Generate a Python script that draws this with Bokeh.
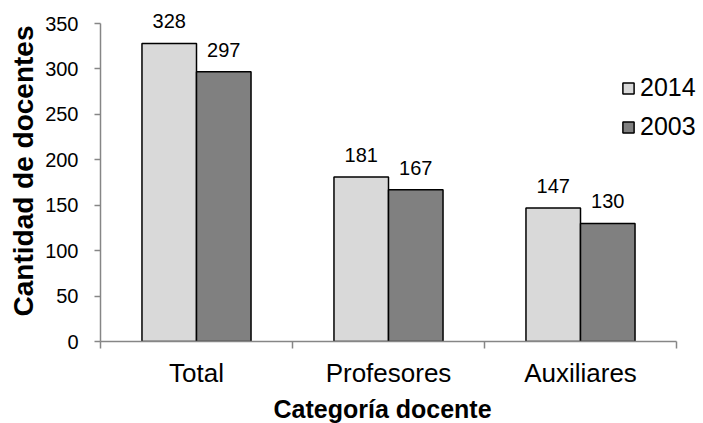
from bokeh.plotting import figure
from bokeh.models import (ColumnDataSource, FixedTicker, Legend, LegendItem,
                          LabelSet, Range1d, Title)
from bokeh.core.properties import value
from bokeh.embed import file_html
from bokeh.resources import INLINE

# ---- data ----
categories = ["Total", "Profesores", "Auxiliares"]
series_names = ["2014", "2003"]
values_2014 = [328, 181, 147]
values_2003 = [297, 167, 130]
y_ticks = [0, 50, 100, 150, 200, 250, 300, 350]
x_title = "Categoría docente"
y_title = "Cantidad de docentes"

# ---- style / layout ----
FONT = "Liberation Sans"
AXIS_GRAY = "#868686"
COLOR_2014 = "#d9d9d9"
COLOR_2003 = "#808080"
BAR_W = 0.284
PX_PER_CAT = 192        # width of one category in pixels
AXIS_H = 318            # height of the 0..350 axis in pixels
FRAME_W = 603
FRAME_H = 341

idx = list(range(len(categories)))
src14 = ColumnDataSource(dict(
    x=[i + 0.5 - BAR_W / 2 for i in idx], top=values_2014,
    lab=[str(v) for v in values_2014]))
src03 = ColumnDataSource(dict(
    x=[i + 0.5 + BAR_W / 2 for i in idx], top=values_2003,
    lab=[str(v) for v in values_2003]))

p = figure(frame_width=FRAME_W, frame_height=FRAME_H,
           min_border_left=100, min_border_right=0,
           min_border_top=0, min_border_bottom=82,
           x_range=Range1d(0, FRAME_W / PX_PER_CAT),
           y_range=Range1d(y_ticks[0], y_ticks[-1] * FRAME_H / AXIS_H),
           output_backend="svg", toolbar_location=None,
           outline_line_color=None, background_fill_color="white",
           border_fill_color="white")
p.grid.visible = False

r14 = p.vbar(x="x", top="top", width=BAR_W, source=src14,
             fill_color=COLOR_2014, line_color="black", line_width=1.5)
r03 = p.vbar(x="x", top="top", width=BAR_W, source=src03,
             fill_color=COLOR_2003, line_color="black", line_width=1.5)

for src in (src14, src03):
    p.add_layout(LabelSet(x="x", y="top", text="lab", source=src,
                          text_align="center", text_baseline="alphabetic",
                          y_offset=15, text_font=value(FONT),
                          text_font_size=value("20px"), text_color="black"))

# x axis: labels at category centres, ticks at category boundaries
xa = p.xaxis[0]
xa.bounds = (0, len(categories))
xa.ticker = FixedTicker(ticks=[i + 0.5 for i in idx],
                        minor_ticks=list(range(len(categories) + 1)))
xa.major_label_overrides = {i + 0.5: c for i, c in zip(idx, categories)}
xa.major_tick_out = 0
xa.major_tick_in = 0
xa.minor_tick_out = 7
xa.minor_tick_in = 0
xa.minor_tick_line_color = AXIS_GRAY
xa.minor_tick_line_width = 1.5
xa.axis_line_color = AXIS_GRAY
xa.axis_line_width = 1.5
xa.major_label_text_font = FONT
xa.major_label_text_font_size = "26px"
xa.major_label_text_color = "black"
xa.major_label_standoff = 9

# x title, centred under the three categories (not the whole frame)
xt = Title(text=x_title, align="left", offset=173, standoff=4,
           text_font=FONT, text_font_style="bold", text_font_size="25px",
           text_color="black")
p.add_layout(xt, "below")

ya = p.yaxis[0]
ya.bounds = (y_ticks[0], y_ticks[-1])
ya.ticker = FixedTicker(ticks=y_ticks, minor_ticks=[])
ya.major_tick_out = 6
ya.major_tick_in = 0
ya.major_tick_line_color = AXIS_GRAY
ya.major_tick_line_width = 1.5
ya.minor_tick_line_color = None
ya.axis_line_color = AXIS_GRAY
ya.axis_line_width = 1.5
ya.major_label_text_font = FONT
ya.major_label_text_font_size = "20px"
ya.major_label_text_color = "black"
ya.major_label_standoff = 16
ya.axis_label = y_title
ya.axis_label_text_font = FONT
ya.axis_label_text_font_style = "bold"
ya.axis_label_text_font_size = "28px"
ya.axis_label_text_color = "black"
ya.axis_label_standoff = 3

legend = Legend(items=[LegendItem(label=series_names[0], renderers=[r14]),
                       LegendItem(label=series_names[1], renderers=[r03])],
                location=(521, 200), orientation="vertical",
                glyph_width=14, glyph_height=14, label_standoff=5,
                spacing=10, padding=0, margin=0,
                border_line_color=None, background_fill_alpha=0,
                label_text_font=FONT, label_text_font_size="25px",
                label_text_color="black")
p.add_layout(legend)

open("out.html", "w").write(file_html(p, INLINE))
